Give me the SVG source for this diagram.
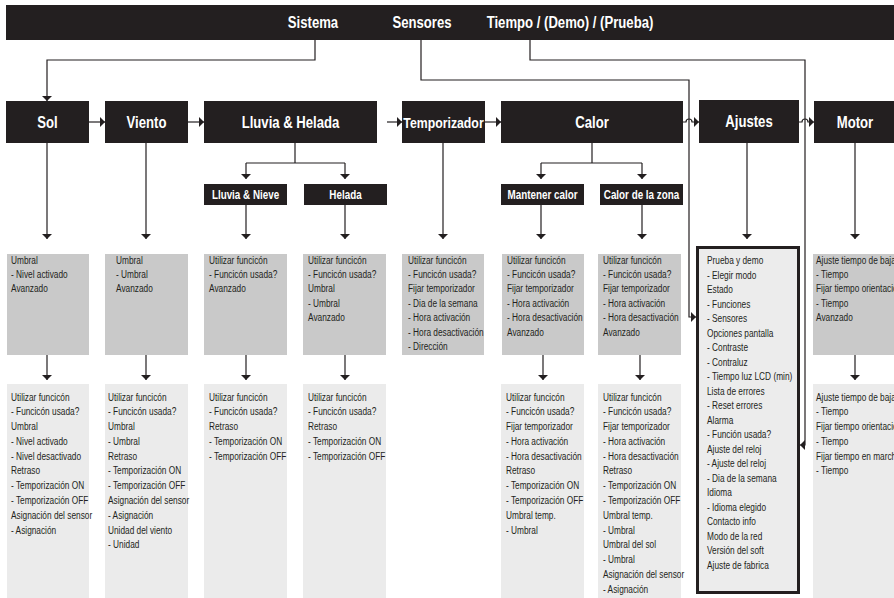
<svg xmlns="http://www.w3.org/2000/svg" width="894" height="598" viewBox="0 0 894 598">
<style>
.blk{fill:#231f20}
.ht{font-family:"Liberation Sans Narrow","Liberation Sans",Arial,sans-serif;font-weight:bold;fill:#fff;text-anchor:middle;font-size:16px}
.st{font-family:"Liberation Sans Narrow","Liberation Sans",Arial,sans-serif;font-weight:bold;fill:#fff;text-anchor:middle;font-size:12px}
.g1{fill:#c9c9c9}
.g2{fill:#ebebeb}
.bt{font-family:"Liberation Sans Narrow","Liberation Sans",Arial,sans-serif;font-size:11px;fill:#231f20}
.c{fill:none;stroke:#231f20;stroke-width:1.2}
</style>
<defs>
<marker id="ah" viewBox="0 0 5 10" refX="5" refY="5" markerWidth="5" markerHeight="10" markerUnits="userSpaceOnUse" orient="auto"><path d="M0,0 L5,5 L0,10 z" fill="#231f20"/></marker>
</defs>
<rect width="894" height="598" fill="#fff"/>

<g id="topbar">
<rect class="blk" x="6" y="5" width="888" height="35"/>
<text class="ht" transform="translate(313,28) scale(0.82,1)">Sistema</text>
<text class="ht" transform="translate(422,28) scale(0.82,1)">Sensores</text>
<text class="ht" transform="translate(570,28) scale(0.82,1)">Tiempo / (Demo) / (Prueba)</text>
</g>

<g id="connectors">
<path class="c" d="M315,40 V60 H47 V101" marker-end="url(#ah)"/>
<path class="c" d="M421,40 V80 H689 V317 H696" marker-end="url(#ah)"/>
<path class="c" d="M530,40 V60 H805 V445 H800" marker-end="url(#ah)"/>
<path class="c" d="M89,122 H105" marker-end="url(#ah)"/>
<path class="c" d="M188,122 H204" marker-end="url(#ah)"/>
<path class="c" d="M387,122 H402" marker-end="url(#ah)"/>
<path class="c" d="M485,122 H501" marker-end="url(#ah)"/>
<path class="c" d="M683,122 H686 A3,3 0 0 1 692,122 H699" marker-end="url(#ah)"/>
<path class="c" d="M799,122 H802 A3,3 0 0 1 808,122 H814" marker-end="url(#ah)"/>
<path class="c" d="M47,143 V239" marker-end="url(#ah)"/>
<path class="c" d="M146,143 V239" marker-end="url(#ah)"/>
<path class="c" d="M443,143 V239" marker-end="url(#ah)"/>
<path class="c" d="M747,143 V239" marker-end="url(#ah)"/>
<path class="c" d="M855,143 V239" marker-end="url(#ah)"/>
<path class="c" d="M295,143 V163"/>
<path class="c" d="M246,163 H345"/>
<path class="c" d="M246,163 V179" marker-end="url(#ah)"/>
<path class="c" d="M345,163 V179" marker-end="url(#ah)"/>
<path class="c" d="M592,143 V163"/>
<path class="c" d="M541,163 H642"/>
<path class="c" d="M541,163 V179" marker-end="url(#ah)"/>
<path class="c" d="M642,163 V179" marker-end="url(#ah)"/>
<path class="c" d="M246,205 V239" marker-end="url(#ah)"/>
<path class="c" d="M345,205 V239" marker-end="url(#ah)"/>
<path class="c" d="M541,205 V239" marker-end="url(#ah)"/>
<path class="c" d="M642,205 V239" marker-end="url(#ah)"/>
<path class="c" d="M47,355 V380" marker-end="url(#ah)"/>
<path class="c" d="M146,355 V380" marker-end="url(#ah)"/>
<path class="c" d="M246,355 V380" marker-end="url(#ah)"/>
<path class="c" d="M345,355 V380" marker-end="url(#ah)"/>
<path class="c" d="M543,355 V380" marker-end="url(#ah)"/>
<path class="c" d="M640,355 V380" marker-end="url(#ah)"/>
<path class="c" d="M855,355 V380" marker-end="url(#ah)"/>
</g>

<g id="sol">
<rect class="blk" x="6" y="101" width="83" height="42"/>
<text class="ht" transform="translate(47.5,128) scale(0.82,1)">Sol</text>
</g>
<g id="viento">
<rect class="blk" x="105" y="101" width="83" height="42"/>
<text class="ht" transform="translate(146.5,128) scale(0.82,1)">Viento</text>
</g>
<g id="lluvia-helada">
<rect class="blk" x="204" y="101" width="173" height="42"/>
<text class="ht" transform="translate(290.5,128) scale(0.82,1)">Lluvia &amp; Helada</text>
</g>
<g id="temporizador">
<rect class="blk" x="402" y="101" width="83" height="42"/>
<text class="ht" transform="translate(443.5,128) scale(0.82,1)" style="font-size:15px">Temporizador</text>
</g>
<g id="calor">
<rect class="blk" x="501" y="101" width="182" height="42"/>
<text class="ht" transform="translate(592,128) scale(0.82,1)">Calor</text>
</g>
<g id="ajustes">
<rect class="blk" x="699" y="100" width="100" height="43"/>
<text class="ht" transform="translate(749,127) scale(0.82,1)">Ajustes</text>
</g>
<g id="motor">
<rect class="blk" x="814" y="101" width="82" height="42"/>
<text class="ht" transform="translate(855,128) scale(0.82,1)">Motor</text>
</g>

<g id="lluvia-nieve">
<rect class="blk" x="204" y="184" width="83" height="21"/>
<text class="st" transform="translate(245.5,199) scale(0.82,1)">Lluvia &amp; Nieve</text>
</g>
<g id="helada">
<rect class="blk" x="304" y="184" width="83" height="21"/>
<text class="st" transform="translate(345.5,199) scale(0.82,1)">Helada</text>
</g>
<g id="mantener-calor">
<rect class="blk" x="501" y="184" width="83" height="21"/>
<text class="st" transform="translate(542.5,199) scale(0.82,1)">Mantener calor</text>
</g>
<g id="calor-zona">
<rect class="blk" x="600" y="184" width="83" height="21"/>
<text class="st" transform="translate(641.5,199) scale(0.82,1)">Calor de la zona</text>
</g>

<g id="sol-basic">
<rect class="g1" x="7" y="254" width="82" height="101"/>
<text class="bt" transform="translate(11,263.5) scale(0.755,1)"><tspan x="0" y="0">Umbral</tspan><tspan x="0" dy="14.5">- Nivel activado</tspan><tspan x="0" dy="14.5">Avanzado</tspan></text>
</g>
<g id="viento-basic">
<rect class="g1" x="105" y="254" width="83" height="101"/>
<text class="bt" transform="translate(116,263.5) scale(0.755,1)"><tspan x="0" y="0">Umbral</tspan><tspan x="0" dy="14.5">- Umbral</tspan><tspan x="0" dy="14.5">Avanzado</tspan></text>
</g>
<g id="lluvia-nieve-basic">
<rect class="g1" x="204" y="254" width="83" height="101"/>
<text class="bt" transform="translate(209,263.5) scale(0.755,1)"><tspan x="0" y="0">Utilizar funcicón</tspan><tspan x="0" dy="14.5">- Funcicón usada?</tspan><tspan x="0" dy="14.5">Avanzado</tspan></text>
</g>
<g id="helada-basic">
<rect class="g1" x="303" y="254" width="83" height="101"/>
<text class="bt" transform="translate(308,263.5) scale(0.755,1)"><tspan x="0" y="0">Utilizar funcicón</tspan><tspan x="0" dy="14.5">- Funcicón usada?</tspan><tspan x="0" dy="14.5">Umbral</tspan><tspan x="0" dy="14.5">- Umbral</tspan><tspan x="0" dy="14.5">Avanzado</tspan></text>
</g>
<g id="temporizador-basic">
<rect class="g1" x="402" y="254" width="82" height="101"/>
<text class="bt" transform="translate(408,263.5) scale(0.755,1)"><tspan x="0" y="0">Utilizar funcicón</tspan><tspan x="0" dy="14.5">- Funcicón usada?</tspan><tspan x="0" dy="14.5">Fijar temporizador</tspan><tspan x="0" dy="14.5">- Dia de la semana</tspan><tspan x="0" dy="14.5">- Hora activación</tspan><tspan x="0" dy="14.5">- Hora desactivación</tspan><tspan x="0" dy="14.5">- Dirección</tspan></text>
</g>
<g id="mantener-basic">
<rect class="g1" x="502" y="254" width="82" height="101"/>
<text class="bt" transform="translate(507,263.5) scale(0.755,1)"><tspan x="0" y="0">Utilizar funcicón</tspan><tspan x="0" dy="14.5">- Funcicón usada?</tspan><tspan x="0" dy="14.5">Fijar temporizador</tspan><tspan x="0" dy="14.5">- Hora activación</tspan><tspan x="0" dy="14.5">- Hora desactivación</tspan><tspan x="0" dy="14.5">Avanzado</tspan></text>
</g>
<g id="zona-basic">
<rect class="g1" x="598" y="254" width="83" height="101"/>
<text class="bt" transform="translate(603,263.5) scale(0.755,1)"><tspan x="0" y="0">Utilizar funcicón</tspan><tspan x="0" dy="14.5">- Funcicón usada?</tspan><tspan x="0" dy="14.5">Fijar temporizador</tspan><tspan x="0" dy="14.5">- Hora activación</tspan><tspan x="0" dy="14.5">- Hora desactivación</tspan><tspan x="0" dy="14.5">Avanzado</tspan></text>
</g>
<g id="ajustes-menu">
<rect x="697.5" y="247.5" width="101" height="345" fill="#ececec" stroke="#231f20" stroke-width="3"/>
<text class="bt" transform="translate(707,264) scale(0.755,1)"><tspan x="0" y="0">Prueba y demo</tspan><tspan x="0" dy="14.52">- Elegir modo</tspan><tspan x="0" dy="14.52">Estado</tspan><tspan x="0" dy="14.52">- Funciones</tspan><tspan x="0" dy="14.52">- Sensores</tspan><tspan x="0" dy="14.52">Opciones pantalla</tspan><tspan x="0" dy="14.52">- Contraste</tspan><tspan x="0" dy="14.52">- Contraluz</tspan><tspan x="0" dy="14.52">- Tiempo luz LCD (min)</tspan><tspan x="0" dy="14.52">Lista de errores</tspan><tspan x="0" dy="14.52">- Reset errores</tspan><tspan x="0" dy="14.52">Alarma</tspan><tspan x="0" dy="14.52">- Función usada?</tspan><tspan x="0" dy="14.52">Ajuste del reloj</tspan><tspan x="0" dy="14.52">- Ajuste del reloj</tspan><tspan x="0" dy="14.52">- Dia de la semana</tspan><tspan x="0" dy="14.52">Idioma</tspan><tspan x="0" dy="14.52">- Idioma elegido</tspan><tspan x="0" dy="14.52">Contacto info</tspan><tspan x="0" dy="14.52">Modo de la red</tspan><tspan x="0" dy="14.52">Versión del soft</tspan><tspan x="0" dy="14.52">Ajuste de fabrica</tspan></text>
</g>
<g id="motor-basic">
<rect class="g1" x="813" y="254" width="81" height="101"/>
<text class="bt" transform="translate(816,263.5) scale(0.755,1)"><tspan x="0" y="0">Ajuste tiempo de bajada</tspan><tspan x="0" dy="14.5">- Tiempo</tspan><tspan x="0" dy="14.5">Fijar tiempo orientación</tspan><tspan x="0" dy="14.5">- Tiempo</tspan><tspan x="0" dy="14.5">Avanzado</tspan></text>
</g>

<g id="sol-advanced">
<rect class="g2" x="7" y="384" width="82" height="214"/>
<text class="bt" transform="translate(11,400.5) scale(0.755,1)"><tspan x="0" y="0">Utilizar funcicón</tspan><tspan x="0" dy="14.8">- Funcicón usada?</tspan><tspan x="0" dy="14.8">Umbral</tspan><tspan x="0" dy="14.8">- Nivel activado</tspan><tspan x="0" dy="14.8">- Nivel desactivado</tspan><tspan x="0" dy="14.8">Retraso</tspan><tspan x="0" dy="14.8">- Temporización ON</tspan><tspan x="0" dy="14.8">- Temporización OFF</tspan><tspan x="0" dy="14.8">Asignación del sensor</tspan><tspan x="0" dy="14.8">- Asignación</tspan></text>
</g>
<g id="viento-advanced">
<rect class="g2" x="105" y="384" width="83" height="214"/>
<text class="bt" transform="translate(108,400.5) scale(0.755,1)"><tspan x="0" y="0">Utilizar funcicón</tspan><tspan x="0" dy="14.8">- Funcicón usada?</tspan><tspan x="0" dy="14.8">Umbral</tspan><tspan x="0" dy="14.8">- Umbral</tspan><tspan x="0" dy="14.8">Retraso</tspan><tspan x="0" dy="14.8">- Temporización ON</tspan><tspan x="0" dy="14.8">- Temporización OFF</tspan><tspan x="0" dy="14.8">Asignación del sensor</tspan><tspan x="0" dy="14.8">- Asignación</tspan><tspan x="0" dy="14.8">Unidad del viento</tspan><tspan x="0" dy="14.8">- Unidad</tspan></text>
</g>
<g id="lluvia-nieve-advanced">
<rect class="g2" x="204" y="384" width="83" height="214"/>
<text class="bt" transform="translate(209,400.5) scale(0.755,1)"><tspan x="0" y="0">Utilizar funcicón</tspan><tspan x="0" dy="14.8">- Funcicón usada?</tspan><tspan x="0" dy="14.8">Retraso</tspan><tspan x="0" dy="14.8">- Temporización ON</tspan><tspan x="0" dy="14.8">- Temporización OFF</tspan></text>
</g>
<g id="helada-advanced">
<rect class="g2" x="303" y="384" width="83" height="214"/>
<text class="bt" transform="translate(308,400.5) scale(0.755,1)"><tspan x="0" y="0">Utilizar funcicón</tspan><tspan x="0" dy="14.8">- Funcicón usada?</tspan><tspan x="0" dy="14.8">Retraso</tspan><tspan x="0" dy="14.8">- Temporización ON</tspan><tspan x="0" dy="14.8">- Temporización OFF</tspan></text>
</g>
<g id="mantener-advanced">
<rect class="g2" x="501" y="384" width="83" height="214"/>
<text class="bt" transform="translate(506,400.5) scale(0.755,1)"><tspan x="0" y="0">Utilizar funcicón</tspan><tspan x="0" dy="14.8">- Funcicón usada?</tspan><tspan x="0" dy="14.8">Fijar temporizador</tspan><tspan x="0" dy="14.8">- Hora activación</tspan><tspan x="0" dy="14.8">- Hora desactivación</tspan><tspan x="0" dy="14.8">Retraso</tspan><tspan x="0" dy="14.8">- Temporización ON</tspan><tspan x="0" dy="14.8">- Temporización OFF</tspan><tspan x="0" dy="14.8">Umbral temp.</tspan><tspan x="0" dy="14.8">- Umbral</tspan></text>
</g>
<g id="zona-advanced">
<rect class="g2" x="598" y="384" width="83" height="214"/>
<text class="bt" transform="translate(603,400.5) scale(0.755,1)"><tspan x="0" y="0">Utilizar funcicón</tspan><tspan x="0" dy="14.8">- Funcicón usada?</tspan><tspan x="0" dy="14.8">Fijar temporizador</tspan><tspan x="0" dy="14.8">- Hora activación</tspan><tspan x="0" dy="14.8">- Hora desactivación</tspan><tspan x="0" dy="14.8">Retraso</tspan><tspan x="0" dy="14.8">- Temporización ON</tspan><tspan x="0" dy="14.8">- Temporización OFF</tspan><tspan x="0" dy="14.8">Umbral temp.</tspan><tspan x="0" dy="14.8">- Umbral</tspan><tspan x="0" dy="14.8">Umbral del sol</tspan><tspan x="0" dy="14.8">- Umbral</tspan><tspan x="0" dy="14.8">Asignación del sensor</tspan><tspan x="0" dy="14.8">- Asignación</tspan></text>
</g>
<g id="motor-advanced">
<rect class="g2" x="813" y="384" width="81" height="214"/>
<text class="bt" transform="translate(816,400.5) scale(0.755,1)"><tspan x="0" y="0">Ajuste tiempo de bajada</tspan><tspan x="0" dy="14.8">- Tiempo</tspan><tspan x="0" dy="14.8">Fijar tiempo orientación</tspan><tspan x="0" dy="14.8">- Tiempo</tspan><tspan x="0" dy="14.8">Fijar tiempo en marcha</tspan><tspan x="0" dy="14.8">- Tiempo</tspan></text>
</g>
</svg>
